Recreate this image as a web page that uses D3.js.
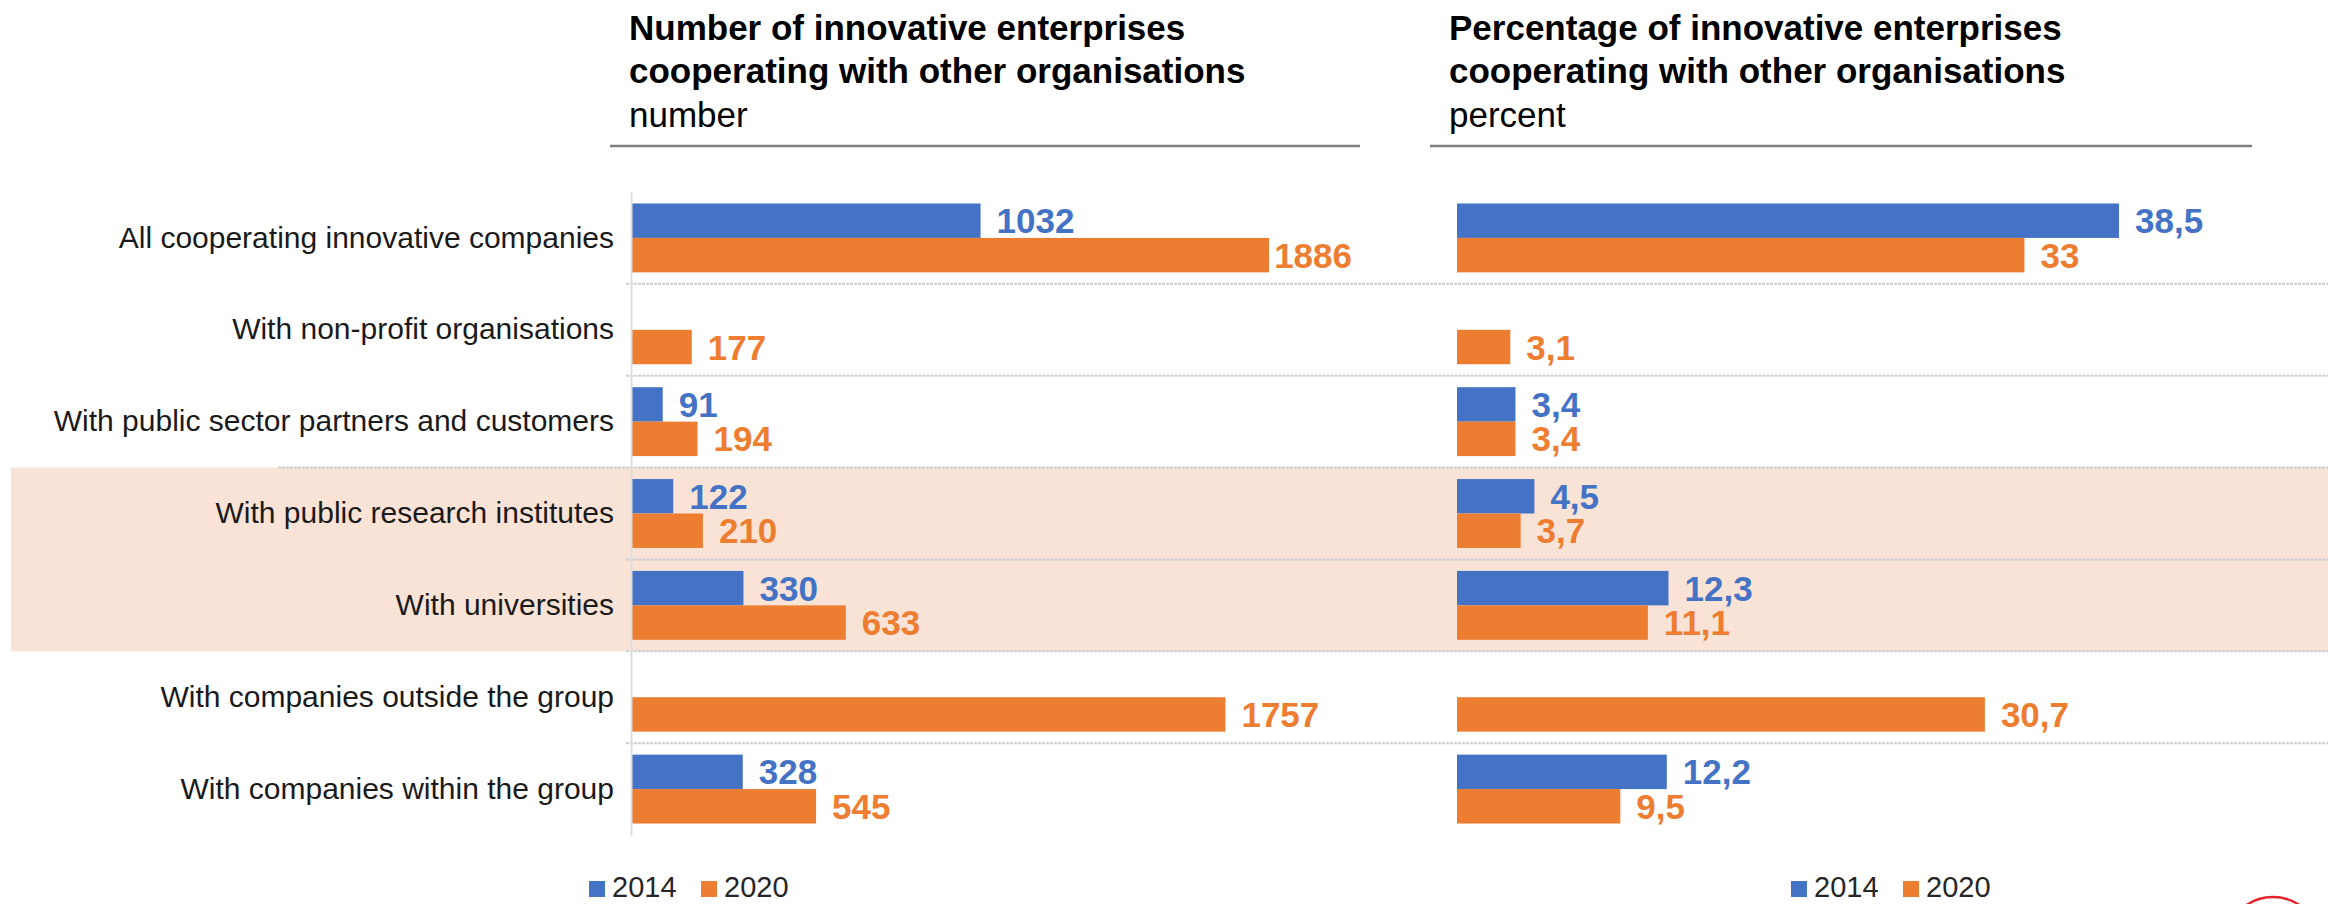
<!DOCTYPE html>
<html>
<head>
<meta charset="utf-8">
<script src="https://cdn.jsdelivr.net/npm/d3@7/dist/d3.min.js"></script>
<style>
  html, body { margin: 0; padding: 0; background: #ffffff; }
  svg { display: block; font-family: "Liberation Sans", Arial, sans-serif; }
</style>
</head>
<body>
<svg id="chart" width="2328" height="904"></svg>
<script>
// Categories of cooperation partners
const categories = [
  "All cooperating innovative companies",
  "With non-profit organisations",
  "With public sector partners and customers",
  "With public research institutes",
  "With universities",
  "With companies outside the group",
  "With companies within the group"
];

const years = ["2014", "2020"];

// Number of innovative enterprises cooperating
const count2014 = [1032, null, 91, 122, 330, null, 328];
const count2020 = [1886, 177, 194, 210, 633, 1757, 545];

// Percentage of innovative enterprises cooperating
const share2014 = [38.5, null, 3.4, 4.5, 12.3, null, 12.2];
const share2020 = [33, 3.1, 3.4, 3.7, 11.1, 30.7, 9.5];

// Categories drawn on a shaded background
const highlighted = ["With public research institutes", "With universities"];

const panelTitles = [
  ["Number of innovative enterprises", "cooperating with other organisations", "number"],
  ["Percentage of innovative enterprises", "cooperating with other organisations", "percent"]
];

const colors = { "2014": "#4472C4", "2020": "#ED7D31" };

const svg = d3.select("#chart");
const W = 2328;

const y = d3.scaleBand().domain(categories).range([192, 835]).paddingInner(0.25).paddingOuter(0.125);
const ySub = d3.scaleBand().domain(years).range([0, y.bandwidth()]);
const step = y.step();

// Shaded block behind highlighted rows
const hiTop = y(highlighted[0]) - step * 0.125;
const hiBottom = y(highlighted[highlighted.length - 1]) + y.bandwidth() + step * 0.125;
svg.append("rect")
  .attr("x", 11).attr("y", hiTop)
  .attr("width", W - 11).attr("height", hiBottom - hiTop)
  .attr("fill", "#F8E3D6");

// Dotted separators between rows
categories.slice(1).forEach((c, i) => {
  const yy = y(c) - step * 0.125;
  const startX = c === highlighted[0] ? 278 : 626;
  svg.append("line")
    .attr("x1", startX).attr("x2", W)
    .attr("y1", yy).attr("y2", yy)
    .attr("stroke", "#cdcdcd").attr("stroke-width", 2)
    .attr("stroke-dasharray", "3,1");
});

const fmt = v => String(v).replace(".", ",");

function drawPanel(opts) {
  const { x, v2014, v2020, titles, titleX, lineX1, lineX2, labelLimit, legendX } = opts;
  const g = svg.append("g");

  // Title block
  const t = g.append("text").attr("x", titleX).attr("fill", "#000").attr("font-size", 35);
  t.append("tspan").attr("x", titleX).attr("y", 40).attr("font-weight", "bold").text(titles[0]);
  t.append("tspan").attr("x", titleX).attr("y", 83).attr("font-weight", "bold").text(titles[1]);
  t.append("tspan").attr("x", titleX).attr("y", 127).text(titles[2]);
  g.append("line")
    .attr("x1", lineX1).attr("x2", lineX2).attr("y1", 146).attr("y2", 146)
    .attr("stroke", "#7f7f7f").attr("stroke-width", 2.5);

  const rows = categories.map((c, i) => ({ c, values: [
    { year: "2014", v: v2014[i] },
    { year: "2020", v: v2020[i] }
  ].filter(d => d.v !== null) }));

  const row = g.selectAll(".row").data(rows).join("g")
    .attr("transform", d => `translate(0,${y(d.c)})`);

  row.selectAll("rect").data(d => d.values).join("rect")
    .attr("x", x(0))
    .attr("y", d => ySub(d.year))
    .attr("width", d => x(d.v) - x(0))
    .attr("height", ySub.bandwidth())
    .attr("fill", d => colors[d.year]);

  row.selectAll("text.val").data(d => d.values).join("text")
    .attr("class", "val")
    .attr("y", d => ySub(d.year) + ySub.bandwidth() / 2)
    .attr("dy", "0.36em")
    .attr("font-size", 35)
    .attr("font-weight", "bold")
    .attr("fill", d => colors[d.year])
    .text(d => fmt(d.v))
    .attr("x", function (d) {
      const w = this.getComputedTextLength();
      return Math.min(x(d.v) + 16, labelLimit - w);
    });

  // Legend
  const lg = g.append("g").attr("transform", `translate(${legendX},881)`);
  const items = [{ year: "2014", dx: 0 }, { year: "2020", dx: 112 }];
  items.forEach(it => {
    lg.append("rect").attr("x", it.dx).attr("y", 0).attr("width", 16).attr("height", 16)
      .attr("fill", colors[it.year]);
    lg.append("text").attr("x", it.dx + 23).attr("y", 16)
      .attr("font-size", 29).attr("fill", "#262626").text(it.year);
  });
  return g;
}

// Left panel: counts
const xCount = d3.scaleLinear().domain([0, 1886]).range([632, 1269]);
drawPanel({
  x: xCount, v2014: count2014, v2020: count2020, titles: panelTitles[0],
  titleX: 629, lineX1: 610, lineX2: 1360, labelLimit: 1352, legendX: 589
});

// Category axis on the left panel
const axis = svg.append("g")
  .attr("transform", "translate(631,0)")
  .call(d3.axisLeft(y).tickSize(0).tickSizeOuter(0).tickPadding(17));
axis.select(".domain").attr("stroke", "#dedede").attr("stroke-width", 2);
axis.selectAll(".tick text")
  .attr("font-size", 30)
  .attr("font-family", "Liberation Sans, Arial, sans-serif")
  .attr("fill", "#1a1a1a");

// Right panel: shares
const xShare = d3.scaleLinear().domain([0, 38.5]).range([1457, 2119]);
drawPanel({
  x: xShare, v2014: share2014, v2020: share2020, titles: panelTitles[1],
  titleX: 1449, lineX1: 1430, lineX2: 2252, labelLimit: 2320, legendX: 1791
});

// Logo ring in the lower right corner
svg.append("circle")
  .attr("cx", 2273).attr("cy", 944).attr("r", 47)
  .attr("fill", "none").attr("stroke", "#E3242B").attr("stroke-width", 2.5);
</script>
</body>
</html>
